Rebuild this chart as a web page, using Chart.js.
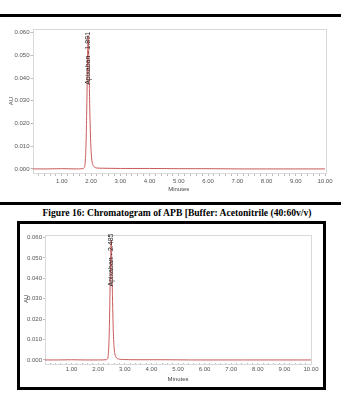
<!DOCTYPE html>
<html>
<head>
<meta charset="utf-8">
<script src="https://cdn.jsdelivr.net/npm/chart.js@4"></script>
<style>
  html, body { margin: 0; padding: 0; background: #fff; }
  body { width: 341px; height: 394px; position: relative; overflow: hidden; }
  .rule { position: absolute; left: 0; width: 341px; height: 3px; background: #000; }
  #wrap1 { position: absolute; left: 0; top: 20px; width: 341px; height: 180px; }
  #box2 { position: absolute; left: 17px; top: 221px; width: 309px; height: 169px;
          border: 3px solid #000; box-sizing: border-box; }
  #wrap2 { position: absolute; left: 0; top: 0; width: 303px; height: 163px; }
  .caption { position: absolute; top: 206px; left: 0; width: 354px; text-align: center;
             font: bold 9.6px 'Liberation Serif', 'Times New Roman', serif;
             line-height: 14px; white-space: nowrap; color: #000; }
</style>
</head>
<body>
<div class="rule" style="top:14px"></div>
<div id="wrap1"><canvas id="chrom1" width="341" height="180"></canvas></div>
<div class="rule" style="top:202px"></div>
<div class="caption">Figure 16: Chromatogram of APB [Buffer: Acetonitrile (40:60v/v)</div>
<div id="box2"><div id="wrap2"><canvas id="chrom2" width="303" height="163"></canvas></div></div>

<script>
// axis ticks
var minuteTicks = [1, 2, 3, 4, 5, 6, 7, 8, 9, 10];
var minuteLabels = ['1.00', '2.00', '3.00', '4.00', '5.00', '6.00', '7.00', '8.00', '9.00', '10.00'];
var auTicks = [0, 0.01, 0.02, 0.03, 0.04, 0.05, 0.06];
var auLabels = ['0.000', '0.010', '0.020', '0.030', '0.040', '0.050', '0.060'];

// run 1 (upper chromatogram)
var run1Minutes = [0, 0.5, 1.0, 1.5, 1.72, 1.76, 1.79, 1.81, 1.83, 1.85, 1.87, 1.885, 1.90,
  1.915, 1.93, 1.95, 1.97, 1.99, 2.01, 2.04, 2.08, 2.13, 2.2, 2.4, 3, 4, 5, 6, 7, 8, 9, 10];
var run1AU = [0.0000, 0.0000, 0.0001, 0.0000, 0.0001, 0.0004, 0.0015, 0.0045, 0.0110, 0.0230,
  0.0380, 0.0510, 0.0588, 0.0555, 0.0460, 0.0320, 0.0200, 0.0115, 0.0065, 0.0030, 0.0014,
  0.0007, 0.0004, 0.0003, 0.0002, 0.0002, 0.0001, 0.0001, 0.0000, 0.0000, 0.0000, 0.0000];
var run1Peak = 'Apixaban - 1.891';
var run1PeakTime = 1.90;

// run 2 (lower chromatogram)
var run2Minutes = [0, 0.5, 1.0, 1.5, 2.0, 2.30, 2.34, 2.37, 2.39, 2.41, 2.43, 2.45, 2.47, 2.485,
  2.50, 2.515, 2.535, 2.555, 2.575, 2.595, 2.625, 2.665, 2.715, 2.79, 2.95, 3.5, 4.5, 5.5,
  6.5, 7.5, 8.5, 9.5, 10];
var run2AU = [0.0000, 0.0000, 0.0001, 0.0000, 0.0000, 0.0001, 0.0004, 0.0015, 0.0045, 0.0110,
  0.0230, 0.0380, 0.0510, 0.0586, 0.0555, 0.0460, 0.0320, 0.0200, 0.0115, 0.0065, 0.0030,
  0.0014, 0.0007, 0.0004, 0.0002, 0.0001, 0.0001, 0.0000, 0.0000, 0.0000, 0.0000, 0.0000, 0.0000];
var run2Peak = 'Apixaban - 2.485';
var run2PeakTime = 2.485;

var frameColor = '#d9d9d9';
var traceColor = '#c95b5b';
var tickFont = { family: "'Liberation Sans', Arial, sans-serif", size: 6 };
var titleFont = { family: "'Liberation Sans', Arial, sans-serif", size: 6 };

var plotFrame = {
  id: 'plotFrame',
  beforeDatasetsDraw: function (chart) {
    var a = chart.chartArea, ctx = chart.ctx;
    ctx.save();
    ctx.strokeStyle = frameColor;
    ctx.lineWidth = 1;
    ctx.strokeRect(Math.round(a.left) + 0.5, Math.round(a.top) + 0.5,
      Math.round(a.right - a.left), Math.round(a.bottom - a.top));
    ctx.restore();
  }
};

var peakLabel = {
  id: 'peakLabel',
  afterDatasetsDraw: function (chart, args, opts) {
    var ctx = chart.ctx;
    var x = chart.scales.x.getPixelForValue(opts.time);
    var y = chart.scales.y.getPixelForValue(opts.base);
    ctx.save();
    ctx.translate(x, y);
    ctx.rotate(-Math.PI / 2);
    ctx.font = '7px "Liberation Sans", Arial, sans-serif';
    ctx.fillStyle = '#222';
    ctx.textAlign = 'left';
    ctx.textBaseline = 'middle';
    ctx.fillText(opts.text, 0, 0);
    ctx.restore();
  }
};

function minuteTickList() {
  var list = [];
  for (var i = 1; i <= 50; i++) list.push({ value: i / 5 });
  return list;
}

function makeChromatogram(id, minutes, au, peakText, peakTime, g) {
  var points = minutes.map(function (m, i) { return { x: m, y: au[i] }; });
  return new Chart(document.getElementById(id), {
    type: 'line',
    data: {
      datasets: [{
        data: points,
        borderColor: traceColor,
        borderWidth: 1,
        pointRadius: 0,
        cubicInterpolationMode: 'monotone',
        fill: false
      }]
    },
    plugins: [plotFrame, peakLabel],
    options: {
      responsive: false,
      devicePixelRatio: 1,
      animation: false,
      events: [],
      layout: { padding: g.padding },
      plugins: {
        legend: { display: false },
        tooltip: { enabled: false },
        peakLabel: { time: peakTime, base: g.labelBase, text: peakText }
      },
      scales: {
        x: {
          type: 'linear',
          min: 0,
          max: 10,
          afterFit: function (s) { s.height = g.xHeight; },
          afterBuildTicks: function (s) { s.ticks = minuteTickList(); },
          border: { display: false },
          grid: { drawOnChartArea: false, tickLength: g.xTickLen, tickColor: '#bdbdbd' },
          ticks: {
            autoSkip: false,
            maxRotation: 0,
            padding: g.xTickPad,
            color: '#555',
            font: tickFont,
            callback: function (v) {
              var k = minuteTicks.indexOf(v);
              return k < 0 ? '' : minuteLabels[k];
            }
          },
          title: { display: true, text: 'Minutes', color: '#444', font: titleFont, padding: { top: 0, bottom: 0 } }
        },
        y: {
          min: g.yMin,
          max: g.yMax,
          afterFit: function (s) { s.width = g.yWidth; },
          afterBuildTicks: function (s) { s.ticks = auTicks.map(function (v) { return { value: v }; }); },
          border: { display: false },
          grid: { drawOnChartArea: false, tickLength: 2, tickColor: '#bdbdbd' },
          ticks: {
            padding: 1,
            color: '#555',
            font: tickFont,
            callback: function (v) {
              var k = auTicks.indexOf(v);
              return k < 0 ? '' : auLabels[k];
            }
          },
          title: { display: true, text: 'AU', color: '#444', font: titleFont, padding: { top: g.yTitlePad, bottom: 0 } }
        }
      }
    }
  });
}

makeChromatogram('chrom1', run1Minutes, run1AU, run1Peak, run1PeakTime, {
  padding: { left: 0, right: 16, top: 9, bottom: 7 },
  xHeight: 20, xTickLen: 3, xTickPad: 2, yWidth: 32.5, yTitlePad: 8,
  yMin: -0.0018, yMax: 0.0616, labelBase: 0.037
});

makeChromatogram('chrom2', run2Minutes, run2AU, run2Peak, run2PeakTime, {
  padding: { left: 0, right: 12, top: 10.5, bottom: 4 },
  xHeight: 20, xTickLen: 2, xTickPad: 1, yWidth: 25, yTitlePad: 3,
  yMin: -0.0015, yMax: 0.0615, labelBase: 0.036
});
</script>
</body>
</html>
